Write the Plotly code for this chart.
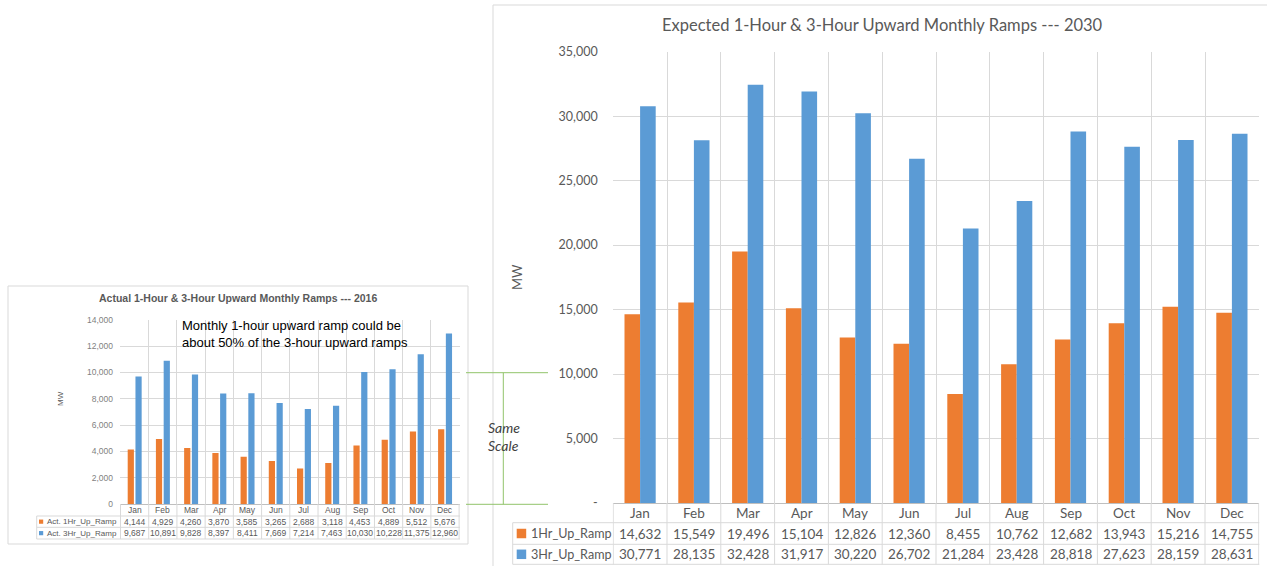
import plotly.graph_objects as go

W, H = 1267, 566

months = ["Jan", "Feb", "Mar", "Apr", "May", "Jun", "Jul", "Aug", "Sep", "Oct", "Nov", "Dec"]
act_1hr = [4144, 4929, 4260, 3870, 3585, 3265, 2688, 3118, 4453, 4889, 5512, 5676]
act_3hr = [9687, 10891, 9828, 8397, 8411, 7669, 7214, 7463, 10030, 10228, 11375, 12960]
exp_1hr = [14632, 15549, 19496, 15104, 12826, 12360, 8455, 10762, 12682, 13943, 15216, 14755]
exp_3hr = [30771, 28135, 32428, 31917, 30220, 26702, 21284, 23428, 28818, 27623, 28159, 28631]

act_names = ["Act. 1Hr_Up_Ramp", "Act. 3Hr_Up_Ramp"]
exp_names = ["1Hr_Up_Ramp", "3Hr_Up_Ramp"]
left_ticks = [0, 2000, 4000, 6000, 8000, 10000, 12000, 14000]
right_ticks = [0, 5000, 10000, 15000, 20000, 25000, 30000, 35000]

ORANGE = "#ED7D31"
BLUE = "#5B9BD5"
GRID = "#D9D9D9"
TXT = "#595959"
ARIAL = "Liberation Sans, Arial"
CAL = "Lato"


def px(x):
    return x / W


def py(y):
    return 1 - y / H


fig = go.Figure()

# ---- left chart (2016) ----
fig.add_trace(go.Bar(x=months, y=act_1hr, name=act_names[0], marker_color=ORANGE,
                     width=0.22, offset=-0.245, xaxis="x", yaxis="y"))
fig.add_trace(go.Bar(x=months, y=act_3hr, name=act_names[1], marker_color=BLUE,
                     width=0.22, offset=0.03, xaxis="x", yaxis="y"))

# ---- right chart (2030) ----
fig.add_trace(go.Bar(x=months, y=exp_1hr, name=exp_names[0], marker_color=ORANGE,
                     width=0.29, offset=-0.29, xaxis="x2", yaxis="y2"))
fig.add_trace(go.Bar(x=months, y=exp_3hr, name=exp_names[1], marker_color=BLUE,
                     width=0.29, offset=0.0, xaxis="x2", yaxis="y2"))

fig.update_layout(
    template="none",
    width=W, height=H, margin=dict(l=0, r=0, t=0, b=0, pad=0, autoexpand=False),
    paper_bgcolor="white", plot_bgcolor="white", showlegend=False,
    barmode="group",
    xaxis=dict(domain=[px(120), px(460)], type="category", tickson="boundaries",
               showgrid=True, gridcolor=GRID, gridwidth=1, showticklabels=False, ticks="",
               showline=True, linecolor="#BFBFBF", zeroline=False, anchor="y",
               automargin=False),
    yaxis=dict(domain=[py(504), py(319.7)], range=[0, 14000], tickvals=left_ticks,
               ticktext=[f"{v:,}" for v in left_ticks], showgrid=True, gridcolor=GRID,
               gridwidth=1, zeroline=False, showline=False, ticks="", ticklabelstandoff=6,
               tickfont=dict(family=ARIAL, size=8.5, color="#7F7F7F"), anchor="x",
               automargin=False),
    xaxis2=dict(domain=[px(612.7), px(1259.3)], type="category", tickson="boundaries",
                showgrid=True, gridcolor=GRID, gridwidth=1, showticklabels=False, ticks="",
                showline=True, linecolor="#BFBFBF", zeroline=False, anchor="y2",
                automargin=False),
    yaxis2=dict(domain=[py(503), py(51.7)], range=[0, 35000], tickvals=right_ticks,
                ticktext=["-"] + [f"{v:,}" for v in right_ticks[1:]], showgrid=True,
                gridcolor=GRID, gridwidth=1, zeroline=False, showline=False, ticks="",
                ticklabelstandoff=14,
                tickfont=dict(family=CAL, size=12.5, color=TXT), anchor="x2",
                automargin=False),
)


def line(x0, x1, y0, y1, color, xref="paper"):
    return dict(type="line", xref=xref, yref="paper", x0=x0, x1=x1, y0=py(y0), y1=py(y1),
                line=dict(color=color, width=1), layer="above")


shapes = [
    # frames
    dict(type="rect", xref="paper", yref="paper", x0=px(8), x1=px(468), y0=py(544), y1=py(286),
         line=dict(color="#D9D9D9", width=1), layer="below"),
    dict(type="rect", xref="paper", yref="paper", x0=px(493), x1=px(1272), y0=py(570), y1=py(5),
         line=dict(color="#D9D9D9", width=1), layer="below"),
    # same-scale connector
    line(px(466), px(548), 372.7, 372.7, "#92C46B"),
    line(px(466), px(548), 504.3, 504.3, "#92C46B"),
    line(px(503.3), px(503.3), 372.7, 504.3, "#92C46B"),
]
annotations = []


def add_table(xref, left, plot_right, rows_y, names, series, colors,
              font, size, label_size, key_size, label_x, key_x):
    """Data table under a category axis: rows_y = [top, hdr_bottom, r1_bottom, r2_bottom]."""
    top, hb, r1b, r2b = rows_y
    for yy in (hb, r1b, r2b):
        shapes.append(line(px(left), px(plot_right), yy, yy, GRID))
    shapes.append(line(px(left), px(left), hb, r2b, GRID))
    # column boundaries follow the category axis
    for i in range(len(months) + 1):
        shapes.append(line(i - 0.5, i - 0.5, top, r2b, GRID, xref=xref))
    for m in months:
        annotations.append(dict(text=m, x=m, xref=xref, y=py((top + hb) / 2),
                                font=dict(family=font, size=size, color=TXT)))
    for (ya, yb), name, vals, col in zip([(hb, r1b), (r1b, r2b)], names, series, colors):
        yc = (ya + yb) / 2
        shapes.append(dict(type="rect", xref="paper", yref="paper",
                           x0=px(key_x), x1=px(key_x + key_size),
                           y0=py(yc + key_size / 2), y1=py(yc - key_size / 2),
                           fillcolor=col, line=dict(width=0), layer="above"))
        annotations.append(dict(text=name, x=px(label_x), y=py(yc), xanchor="left",
                                font=dict(family=font, size=label_size, color=TXT)))
        for m, v in zip(months, vals):
            annotations.append(dict(text=f"{v:,}", x=m, xref=xref, y=py(yc),
                                    font=dict(family=font, size=size, color=TXT)))


add_table("x", 36.7, 460, [504, 516, 527.3, 539], act_names, [act_1hr, act_3hr],
          [ORANGE, BLUE], ARIAL, 8.5, 8, 4.2, 44.5, 39.0)
add_table("x2", 512.7, 1259.3, [503, 522.7, 544.3, 564.3], exp_names, [exp_1hr, exp_3hr],
          [ORANGE, BLUE], CAL, 13.5, 12.6, 9.5, 528.5, 516.7)

annotations += [
    dict(text="Expected 1-Hour & 3-Hour Upward Monthly Ramps --- 2030", x=px(882.5), y=py(25),
         font=dict(family=CAL, size=16.5, color=TXT)),
    dict(text="<b>Actual 1-Hour & 3-Hour Upward Monthly Ramps --- 2016</b>", x=px(238), y=py(298),
         font=dict(family=ARIAL, size=10.5, color=TXT)),
    dict(text="Monthly 1-hour upward ramp could be<br>about 50% of the 3-hour upward ramps",
         x=px(180), y=py(334), xanchor="left", align="left",
         font=dict(family=ARIAL, size=13, color="#000000")),
    dict(text="MW", x=px(517), y=py(277), textangle=-90, font=dict(family=CAL, size=13, color=TXT)),
    dict(text="MW", x=px(60), y=py(399), textangle=-90, font=dict(family=ARIAL, size=8, color=TXT)),
    dict(text="<i>Same<br>Scale</i>", x=px(504), y=py(436), align="left",
         font=dict(family=CAL, size=14, color="#404040")),
]
for a in annotations:
    a.setdefault("xref", "paper")
    a.setdefault("yref", "paper")
    a.setdefault("showarrow", False)
    a.setdefault("xanchor", "center")
    a.setdefault("yanchor", "middle")

fig.update_layout(shapes=shapes, annotations=annotations)
fig.write_html("out.html", config={"displayModeBar": False},
               post_script="document.body.style.margin='0';document.body.style.overflow='hidden';")
